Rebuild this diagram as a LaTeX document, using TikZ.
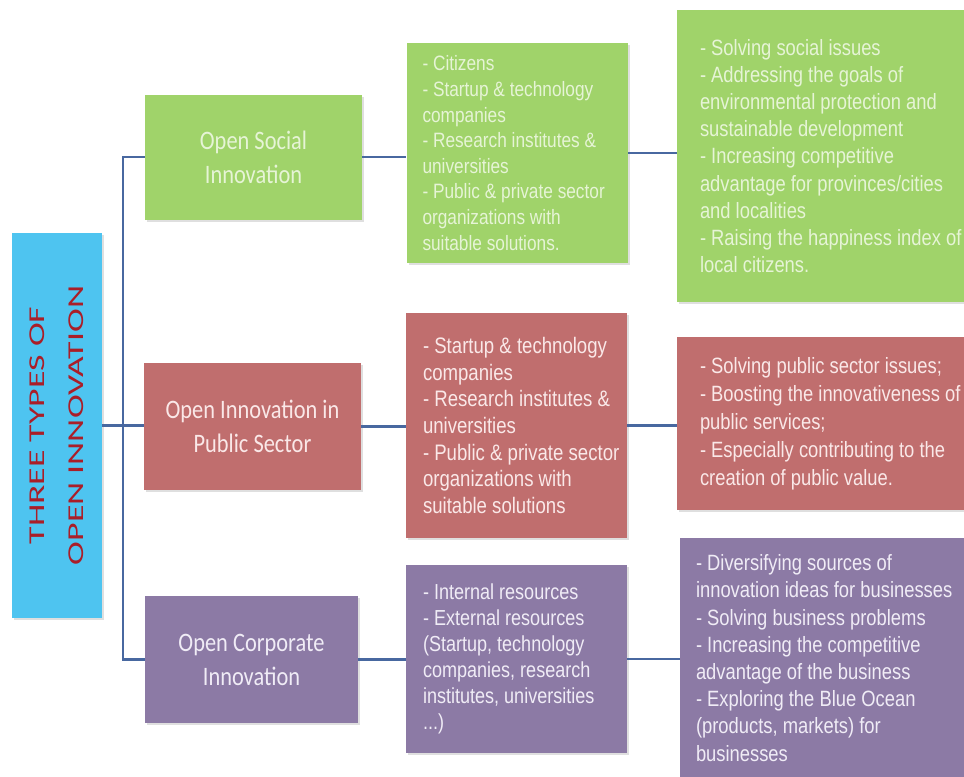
\documentclass[tikz,border=0pt]{standalone}
\usepackage{fontspec}
\setmainfont{Liberation Sans}
\newfontfamily\boxfont[FakeStretch=0.84]{Carlito}
\newfontfamily\listfont[FakeStretch=0.83]{Liberation Sans}
\newfontfamily\titlefont[FakeStretch=1.58]{Carlito}
\usetikzlibrary{positioning}
\usetikzlibrary{shadows}
\usepackage{xcolor}

\definecolor{socgreen}{RGB}{160,211,106}
\definecolor{socgreentext}{RGB}{230,244,214}
\definecolor{pubred}{RGB}{192,110,110}
\definecolor{pubredtext}{RGB}{250,232,232}
\definecolor{corppurple}{RGB}{140,122,165}
\definecolor{corppurpletext}{RGB}{240,236,246}
\definecolor{titleblue}{RGB}{78,196,240}
\definecolor{titlered}{RGB}{170,30,40}
\definecolor{linkblue}{RGB}{72,104,160}

\tikzset{
  box/.style={rectangle, inner sep=0pt, drop shadow={opacity=.25,shadow xshift=1.5pt,shadow yshift=-1.5pt}},
  leftcol/.style={box, minimum width=162.75pt, minimum height=95.25pt, align=center, font=\boxfont\fontsize{20}{25.5}\selectfont},
  midcol/.style={box, minimum width=165.75pt},
  outcol/.style={box, minimum width=242.25pt},
  listtext/.style={inner sep=0pt, align=left, font=\listfont\fontsize{16.3}{19.5}\selectfont},
  outtext/.style={inner sep=0pt, align=left, font=\listfont\fontsize{16.6}{20.4}\selectfont},
  link/.style={draw=linkblue, line width=1.6pt}
}

\begin{document}
\begin{tikzpicture}[x=0.75pt,y=-0.75pt]
\useasboundingbox (0,0) rectangle (964,776);
\clip (0,0) rectangle (964,776);
\fill[white] (0,0) rectangle (964,776);

\node[box, fill=titleblue, minimum width=67.5pt, minimum height=288.75pt] (title) at (57,425.5) {};
\node[rotate=90, align=center, text=titlered, font=\titlefont\fontsize{17}{29}\selectfont] (titlelabel) at (title.center) {THREE TYPES OF\\OPEN INNOVATION};

\node[leftcol, fill=socgreen, text=socgreentext, minimum height=93.75pt] (soc) at (253.5,157) {Open Social\\Innovation};
\node[leftcol, fill=pubred, text=pubredtext] (pub) at (252.5,426.5) {Open Innovation in\\Public Sector};
\node[leftcol, fill=corppurple, text=corppurpletext, minimum width=159.75pt] (corp) at (251.5,659.5) {Open Corporate\\Innovation};

\node[midcol, fill=socgreen, minimum height=165pt] (socmid) at (517,153) {};
\node[midcol, fill=pubred, minimum height=168.75pt] (pubmid) at (516.5,425.5) {};
\node[midcol, fill=corppurple, minimum height=141pt] (corpmid) at (516.5,659) {};

\node[outcol, fill=socgreen, minimum height=219pt] (socout) at (838.5,156) {};
\node[outcol, fill=pubred, minimum height=129.75pt] (pubout) at (838.5,423.5) {};
\node[outcol, fill=corppurple, minimum height=180pt, minimum width=240pt] (corpout) at (840,658) {};

\node[listtext, text=socgreentext, font=\listfont\fontsize{15.6}{19.2}\selectfont, right=12pt of socmid.west] (socwho) {- Citizens\\- Startup \& technology\\companies\\- Research institutes \&\\universities\\- Public \& private sector\\organizations with\\suitable solutions.};
\node[listtext, text=pubredtext, font=\listfont\fontsize{16.8}{20}\selectfont, right=12.75pt of pubmid.west] (pubwho) {- Startup \& technology\\companies\\- Research institutes \&\\universities\\- Public \& private sector\\organizations with\\suitable solutions};
\node[listtext, text=corppurpletext, right=12.75pt of corpmid.west] (corpwho) {- Internal resources\\- External resources\\(Startup, technology\\companies, research\\institutes, universities\\...)};

\node[outtext, text=socgreentext, right=17.25pt of socout.west] (socgoal) {- Solving social issues\\- Addressing the goals of\\environmental protection and\\sustainable development\\- Increasing competitive\\advantage for provinces/cities\\and localities\\- Raising the happiness index of\\local citizens.};
\node[outtext, text=pubredtext, font=\listfont\fontsize{16.6}{21}\selectfont, right=17.25pt of pubout.west] (pubgoal) {- Solving public sector issues;\\- Boosting the innovativeness of\\public services;\\- Especially contributing to the\\creation of public value.};
\node[outtext, text=corppurpletext, right=12pt of corpout.west] (corpgoal) {- Diversifying sources of\\innovation ideas for businesses\\- Solving business problems\\- Increasing the competitive\\advantage of the business\\- Exploring the Blue Ocean\\(products, markets) for\\businesses};

\coordinate (fork) at (123,425.5);
\draw[link] (soc.west) -| (fork) |- (corp.west);
\foreach \a/\b in {title/pub, soc/socmid, pub/pubmid, corp/corpmid, socmid/socout, pubmid/pubout, corpmid/corpout}
  \draw[link] (\a.east) -- (\a.east -| \b.west);
\end{tikzpicture}
\end{document}
